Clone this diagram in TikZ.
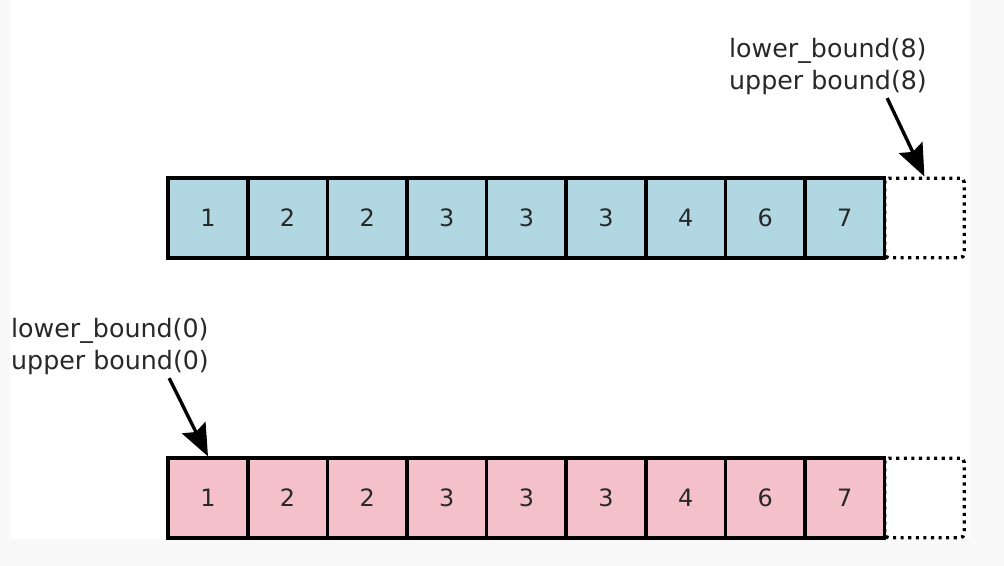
\documentclass[tikz,border=0pt]{standalone}
\usepackage{fontspec}
\setmainfont{DejaVu Sans}
\usetikzlibrary{arrows.meta}
\definecolor{topfill}{RGB}{176,215,226}
\definecolor{botfill}{RGB}{244,193,203}
\definecolor{inkgrey}{RGB}{40,40,40}
\definecolor{edgegrey}{RGB}{249,249,249}

\begin{document}
\begin{tikzpicture}
  \tikzstyle{cell}=[rectangle,draw,line width=2.6pt,minimum size=1.99cm,inner sep=0pt,text=inkgrey,font=\fontsize{17}{20}\selectfont]
  \tikzstyle{slot}=[rectangle,draw,line width=2.4pt,dash pattern=on 2.2pt off 3.2pt,rounded corners=3pt,minimum size=1.99cm,inner sep=0pt]
  \tikzstyle{note}=[align=left,inner sep=2pt,text=inkgrey,font=\fontsize{18}{22.7}\selectfont]
  \tikzstyle{pointer}=[draw,line width=2.4pt,-{Stealth[length=8mm,width=6.5mm,inset=1.2mm]}]
  % page and its light margin
  \fill [edgegrey] (0,0) rectangle (25.1,14.15);
  \fill [white] (0.25,0.68) rectangle (24.25,14.15);
  \useasboundingbox (0,0) rectangle (25.1,14.15);
  % sorted array, searched for 8
  \node [slot] (t10) at (23.11,8.7) {};
  \foreach \v [count=\i] in {1,2,2,3,3,3,4,6,7}
    \node [cell,fill=topfill] (t\i) at ({5.2+1.99*(\i-1)},8.7) {\v};
  % sorted array, searched for 0
  \node [slot] (b10) at (23.11,1.7) {};
  \foreach \v [count=\i] in {1,2,2,3,3,3,4,6,7}
    \node [cell,fill=botfill] (b\i) at ({5.2+1.99*(\i-1)},1.7) {\v};
  \node [note] (topnote) at (20.7,12.48) {lower\_bound(8)\\upper bound(8)};
  \node [note] (botnote) at (2.75,5.48) {lower\_bound(0)\\upper bound(0)};
  \draw [pointer] ([xshift=-1.07cm]topnote.south east) -- (t10.north);
  \draw [pointer] ([xshift=-1.07cm]botnote.south east) -- (b1.north);
\end{tikzpicture}
\end{document}
